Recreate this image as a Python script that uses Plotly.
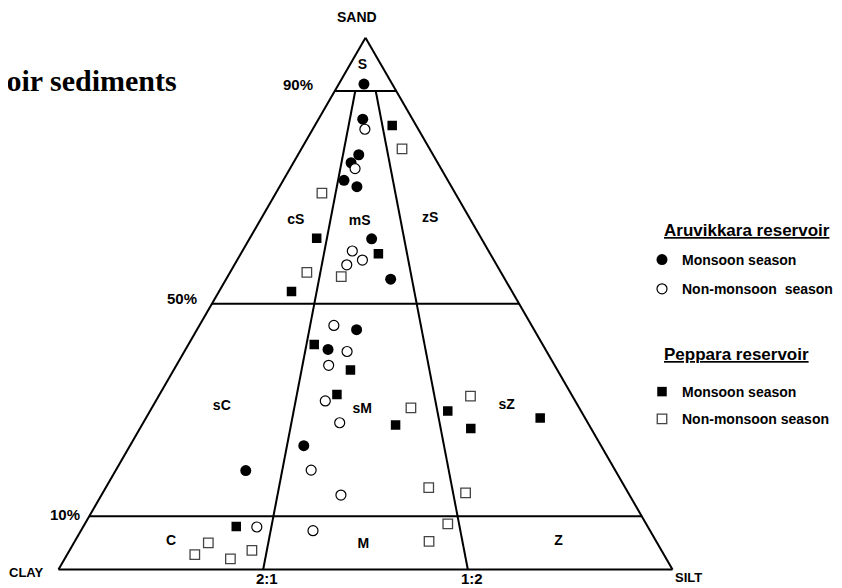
import plotly.graph_objects as go

W, H = 842, 588

# ---- data: sediment texture (%) ----
# Aruvikkara reservoir - monsoon season
aru_mon_sand = [91.3, 84.7, 78.0, 76.5, 73.2, 72.0, 62.2, 54.6, 45.1, 41.4, 23.3, 18.6]
aru_mon_silt = [4.1, 7.2, 9.9, 9.4, 9.9, 12.6, 19.9, 26.8, 26.0, 23.2, 28.3, 21.2]
aru_mon_clay = [4.6, 8.1, 12.1, 14.1, 16.9, 15.4, 17.9, 18.6, 28.9, 35.4, 48.4, 60.2]

# Aruvikkara reservoir - non-monsoon season
aru_non_sand = [82.8, 75.4, 59.9, 58.2, 57.3, 45.9, 41.0, 38.4, 31.7, 27.6, 18.7, 14.0, 8.0, 7.3]
aru_non_silt = [8.5, 10.6, 17.9, 20.4, 18.3, 21.9, 26.5, 24.8, 27.6, 32.0, 31.8, 39.0, 28.3, 37.8]
aru_non_clay = [8.7, 14.0, 22.2, 21.4, 24.4, 32.2, 32.5, 36.8, 40.7, 40.4, 49.5, 47.0, 63.7, 54.9]

# Peppara reservoir - monsoon season
pep_mon_sand = [83.5, 62.3, 59.4, 52.3, 42.3, 37.5, 32.9, 27.2, 29.8, 26.5, 28.5, 8.1]
pep_mon_silt = [12.6, 10.9, 22.4, 11.8, 20.5, 28.8, 28.9, 41.3, 48.5, 53.9, 64.2, 24.9]
pep_mon_clay = [3.9, 26.8, 18.2, 35.9, 37.2, 33.7, 38.2, 31.5, 21.7, 19.6, 7.3, 67.0]

# Peppara reservoir - non-monsoon season
pep_non_sand = [79.1, 70.8, 55.9, 55.1, 30.4, 32.6, 15.4, 14.4, 8.6, 5.3, 5.0, 2.8, 2.0, 3.6]
pep_non_silt = [16.4, 7.5, 12.5, 18.5, 42.2, 50.8, 52.6, 59.1, 59.1, 57.7, 21.9, 20.8, 27.0, 29.7]
pep_non_clay = [4.5, 21.7, 31.6, 26.4, 27.4, 16.6, 32.0, 26.5, 32.3, 37.0, 73.1, 76.4, 71.0, 66.7]

# Folk classification boundaries
sand_levels = [90, 50, 10]
clay_silt_ratios = [(2, 1), (1, 2)]

# class names and where they sit (sand, silt, clay %)
region_names = ["S", "cS", "mS", "zS", "sC", "sM", "sZ", "C", "M", "Z"]
region_sand = [94.8, 65.7, 65.5, 66.1, 30.6, 30.1, 30.8, 5.3, 4.7, 5.3]
region_silt = [2.1, 5.8, 16.3, 27.5, 11.3, 34.4, 57.6, 15.7, 47.3, 78.8]
region_clay = [3.1, 28.5, 18.2, 6.4, 58.1, 35.5, 11.6, 79.0, 48.0, 15.9]

LABEL_FONT = "Liberation Sans, Arial, sans-serif"

fig = go.Figure()

# boundary lines
top = max(sand_levels)
for s in sand_levels:
    fig.add_trace(go.Scatterternary(
        a=[s, s], b=[100 - s, 0], c=[0, 100 - s], mode="lines",
        line=dict(color="black", width=2), showlegend=False, hoverinfo="skip"))
for cl, si in clay_silt_ratios:
    fc, fs = cl / (cl + si), si / (cl + si)
    fig.add_trace(go.Scatterternary(
        a=[0, top], b=[100 * fc, (100 - top) * fc], c=[100 * fs, (100 - top) * fs],
        mode="lines", line=dict(color="black", width=2),
        showlegend=False, hoverinfo="skip"))

# region labels
fig.add_trace(go.Scatterternary(
    a=region_sand, b=region_clay, c=region_silt, mode="text", text=region_names,
    textfont=dict(family=LABEL_FONT, size=14, color="black", weight="bold"),
    showlegend=False, hoverinfo="skip"))

# data series
fig.add_trace(go.Scatterternary(
    a=aru_mon_sand, b=aru_mon_clay, c=aru_mon_silt, mode="markers",
    name="Monsoon season", legend="legend", legendgroup="am",
    marker=dict(symbol="circle", size=11, color="black", line=dict(width=0))))
fig.add_trace(go.Scatterternary(
    a=aru_non_sand, b=aru_non_clay, c=aru_non_silt, mode="markers",
    name="Non-monsoon  season", legend="legend", legendgroup="an",
    marker=dict(symbol="circle", size=10, color="white", line=dict(width=1.2, color="black"))))
fig.add_trace(go.Scatterternary(
    a=pep_mon_sand, b=pep_mon_clay, c=pep_mon_silt, mode="markers",
    name="Monsoon season", legend="legend2", legendgroup="pm",
    marker=dict(symbol="square", size=9.5, color="black", line=dict(width=0))))
fig.add_trace(go.Scatterternary(
    a=pep_non_sand, b=pep_non_clay, c=pep_non_silt, mode="markers",
    name="Non-monsoon season", legend="legend2", legendgroup="pn",
    marker=dict(symbol="square", size=9.5, color="white", line=dict(width=1.3, color="#444"))))

axis_style = dict(showticklabels=False, ticks="", showgrid=False, showline=True,
                  linecolor="black", linewidth=2, title=dict(text=""), min=0)


def px(x):
    return x / W


def py(y):
    return 1 - y / H


annotations = []


def label(text, x, y, size=14, xanchor="center", family=LABEL_FONT):
    annotations.append(dict(text=text, x=px(x), y=py(y), xref="paper", yref="paper",
                            xanchor=xanchor, yanchor="middle", showarrow=False,
                            font=dict(family=family, size=size, color="black", weight="bold")))


label("SAND", 349, 9)
label("CLAY", 18, 564, size=13)
label("SILT", 680, 569, size=13)
label("90%", 290, 76.5, size=15)
label("50%", 174, 290, size=15)
label("10%", 57, 506, size=15)
label("2:1", 259, 570.5, size=15)
label("1:2", 464, 570.5, size=15)
label("<u>Aruvikkara reservoir</u>", 653.5, 223, size=17, xanchor="left")
label("<u>Peppara reservoir</u>", 653.5, 346, size=17, xanchor="left")
label("reservoir sediments", 171, 72, size=30, xanchor="right",
      family="Liberation Serif, Times New Roman, serif")

legend_common = dict(xanchor="left", yanchor="top", bgcolor="rgba(0,0,0,0)",
                     font=dict(family=LABEL_FONT, size=14, color="black", weight="bold"),
                     itemclick=False, itemdoubleclick=False)

fig.update_layout(
    width=W, height=H,
    margin=dict(l=0, r=0, t=0, b=0),
    paper_bgcolor="white",
    showlegend=True,
    ternary=dict(
        sum=100,
        bgcolor="white",
        domain=dict(x=[0.05997, 0.78919], y=[0.04269, 0.95169]),
        aaxis=axis_style, baxis=axis_style, caxis=axis_style,
    ),
    legend=dict(x=634 / W, y=1 - 236 / H, tracegroupgap=8, **legend_common),
    legend2=dict(x=634 / W, y=1 - 368 / H, tracegroupgap=6, **legend_common),
    annotations=annotations,
)

fig.write_html("out.html")
